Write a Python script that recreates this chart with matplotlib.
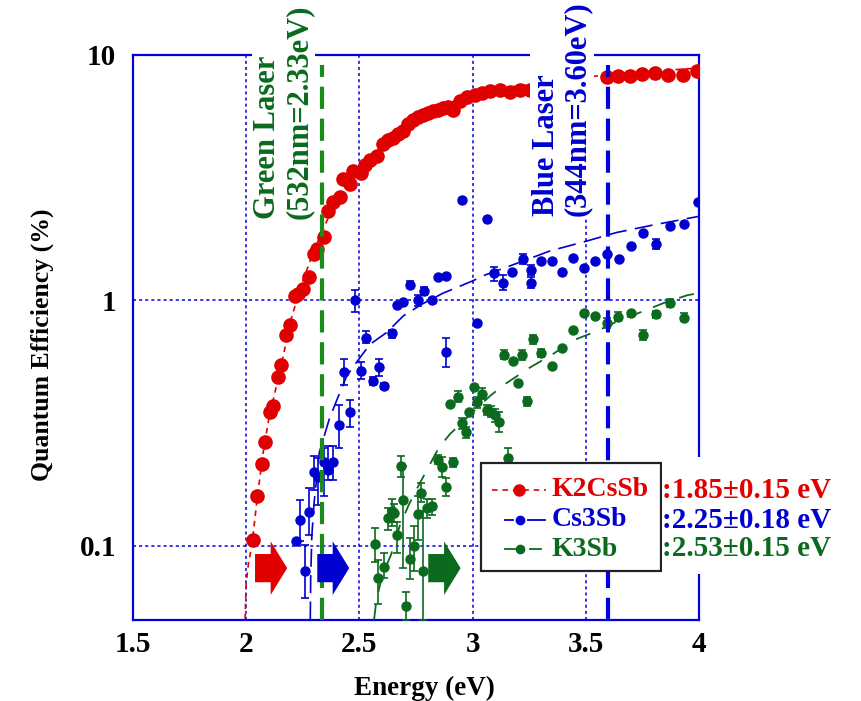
import matplotlib
matplotlib.use('Agg')
import matplotlib.pyplot as plt
import matplotlib.transforms as mtransforms
from matplotlib.patches import Rectangle, FancyArrow
from matplotlib.lines import Line2D
from matplotlib.ticker import NullLocator

plt.rcParams['font.family'] = ['Liberation Serif', 'DejaVu Serif']
plt.rcParams['font.weight'] = 'bold'
plt.rcParams['lines.scale_dashes'] = False

# ---------------- data ----------------
red_e = [2.030, 2.049, 2.068, 2.083, 2.104, 2.117, 2.141, 2.152, 2.175, 2.194,
         2.215, 2.230, 2.252, 2.278, 2.299, 2.313, 2.344, 2.360, 2.385, 2.414,
         2.428, 2.459, 2.473, 2.506, 2.525, 2.546, 2.576, 2.606, 2.628, 2.650,
         2.672, 2.694, 2.716, 2.738, 2.760, 2.782, 2.804, 2.826, 2.848, 2.870,
         2.892, 2.914, 2.944, 2.975, 3.011, 3.042, 3.077, 3.121, 3.165, 3.209,
         3.254, 3.592, 3.644, 3.695, 3.747, 3.806, 3.864, 3.931, 3.993]
red_qe = [0.105, 0.159, 0.215, 0.264, 0.352, 0.37, 0.486, 0.547, 0.72, 0.79,
          1.04, 1.06, 1.11, 1.25, 1.55, 1.62, 1.82, 2.31, 2.52, 2.64,
          3.11, 2.99, 3.37, 3.29, 3.56, 3.73, 3.87, 4.35, 4.49, 4.6,
          4.78, 4.92, 5.21, 5.41, 5.61, 5.71, 5.78, 5.9, 5.97, 6.08,
          6.12, 5.97, 6.47, 6.76, 6.89, 7.02, 7.11, 7.18, 7.08, 7.18,
          7.21, 8.15, 8.22, 8.2, 8.35, 8.42, 8.3, 8.3, 8.6]
red_fit_e = [1.995, 2.0, 2.01, 2.025, 2.05, 2.075, 2.1, 2.15, 2.2, 2.25, 2.3,
             2.35, 2.4, 2.5, 2.6, 2.7, 2.8, 2.9, 3.0, 3.2, 3.4, 3.6, 3.8, 4.0]
red_fit_qe = [0.05, 0.07, 0.085, 0.1, 0.16, 0.24, 0.33, 0.52, 0.85, 1.2, 1.6,
              2.05, 2.55, 3.4, 4.3, 5.1, 5.8, 6.4, 6.85, 7.5, 7.95, 8.3, 8.6, 8.85]

blue_e = [2.219, 2.237, 2.259, 2.278, 2.299, 2.318, 2.343, 2.362, 2.384, 2.411,
          2.431, 2.459, 2.481, 2.507, 2.529, 2.558, 2.585, 2.610, 2.643, 2.667,
          2.694, 2.723, 2.759, 2.785, 2.819, 2.848, 2.883, 2.883, 2.951, 3.018,
          3.062, 3.096, 3.135, 3.175, 3.224, 3.260, 3.260, 3.304, 3.352, 3.396,
          3.444, 3.493, 3.540, 3.595, 3.647, 3.700, 3.754, 3.811, 3.872, 3.935,
          3.997]
blue_qe = [0.104, 0.127, 0.079, 0.137, 0.20, 0.19, 0.22, 0.204, 0.22, 0.31,
           0.51, 0.349, 1.0, 0.517, 0.70, 0.467, 0.534, 0.447, 0.733, 0.957,
           0.98, 1.16, 1.0, 1.09, 1.0, 1.24, 1.26, 0.617, 2.56, 0.81,
           2.14, 1.29, 1.18, 1.31, 1.47, 1.33, 1.18, 1.44, 1.44, 1.31,
           1.49, 1.36, 1.44, 1.54, 1.47, 1.67, 1.88, 1.70, 2.0, 2.05,
           2.52]
blue_lo = [0.104, 0.104, 0.061, 0.11, 0.169, 0.146, 0.16, 0.185, 0.185, 0.25,
           0.45, 0.304, 0.9, 0.477, 0.67, 0.45, 0.493, 0.435, 0.70, 0.957,
           0.98, 1.12, 0.95, 1.05, 1.0, 1.24, 1.26, 0.533, 2.5, 0.81,
           2.14, 1.2, 1.1, 1.31, 1.4, 1.27, 1.12, 1.44, 1.44, 1.31,
           1.49, 1.36, 1.44, 1.54, 1.47, 1.67, 1.88, 1.62, 2.0, 2.05,
           2.52]
blue_hi = [0.104, 0.153, 0.101, 0.171, 0.233, 0.227, 0.25, 0.254, 0.254, 0.373,
           0.577, 0.394, 1.1, 0.56, 0.75, 0.485, 0.576, 0.46, 0.76, 0.957,
           0.98, 1.2, 1.05, 1.13, 1.0, 1.24, 1.26, 0.70, 2.62, 0.81,
           2.14, 1.37, 1.27, 1.31, 1.55, 1.39, 1.24, 1.44, 1.44, 1.31,
           1.49, 1.36, 1.44, 1.54, 1.47, 1.67, 1.88, 1.78, 2.0, 2.05,
           2.52]
blue_fit_e = [2.283, 2.285, 2.29, 2.30, 2.323, 2.367, 2.402, 2.444, 2.5, 2.547,
              2.62, 2.694, 2.775, 2.87, 3.0, 3.047, 3.2, 3.342, 3.5, 3.636, 3.8, 4.0]
blue_fit_qe = [0.05, 0.075, 0.11, 0.15, 0.24, 0.328, 0.396, 0.492, 0.58, 0.662,
               0.739, 0.864, 0.963, 1.07, 1.2, 1.26, 1.42, 1.59, 1.74, 1.89, 2.03, 2.2]

green_e = [2.568, 2.583, 2.609, 2.625, 2.643, 2.654, 2.667, 2.682, 2.694, 2.708,
           2.723, 2.742, 2.758, 2.771, 2.782, 2.800, 2.819, 2.848, 2.867, 2.883,
           2.915, 2.899, 2.937, 2.951, 2.970, 2.985, 3.008, 3.018, 3.041, 3.062,
           3.080, 3.099, 3.118, 3.158, 3.140, 3.179, 3.201, 3.220, 3.241, 3.265,
           3.304, 3.352, 3.397, 3.444, 3.493, 3.540, 3.595, 3.644, 3.700, 3.754,
           3.811, 3.872, 3.935]
green_qe = [0.102, 0.074, 0.082, 0.13, 0.138, 0.136, 0.111, 0.212, 0.154, 0.057,
            0.088, 0.10, 0.135, 0.164, 0.079, 0.143, 0.145, 0.224, 0.21, 0.173,
            0.219, 0.379, 0.404, 0.315, 0.29, 0.349, 0.443, 0.385, 0.416, 0.356,
            0.351, 0.34, 0.32, 0.227, 0.599, 0.568, 0.461, 0.599, 0.388, 0.695,
            0.61, 0.54, 0.637, 0.758, 0.892, 0.864, 0.807, 0.859, 0.892, 0.722,
            0.878, 0.972, 0.851]
green_lo = [0.086, 0.058, 0.074, 0.116, 0.12, 0.125, 0.093, 0.19, 0.081, 0.05,
            0.073, 0.079, 0.105, 0.15, 0.05, 0.13, 0.133, 0.215, 0.19, 0.159,
            0.21, 0.379, 0.385, 0.30, 0.275, 0.349, 0.443, 0.365, 0.395, 0.34,
            0.335, 0.32, 0.29, 0.227, 0.575, 0.568, 0.461, 0.57, 0.37, 0.665,
            0.585, 0.54, 0.637, 0.758, 0.892, 0.864, 0.77, 0.825, 0.892, 0.69,
            0.85, 0.94, 0.82]
green_hi = [0.118, 0.087, 0.093, 0.142, 0.155, 0.148, 0.125, 0.232, 0.212, 0.065,
            0.107, 0.12, 0.16, 0.18, 0.139, 0.155, 0.155, 0.235, 0.23, 0.188,
            0.228, 0.379, 0.425, 0.33, 0.305, 0.349, 0.443, 0.405, 0.44, 0.375,
            0.37, 0.36, 0.35, 0.25, 0.625, 0.568, 0.461, 0.63, 0.405, 0.725,
            0.635, 0.54, 0.637, 0.758, 0.892, 0.864, 0.845, 0.9, 0.892, 0.76,
            0.905, 1.01, 0.885]
green_fit_e = [2.565, 2.575, 2.6, 2.64, 2.68, 2.72, 2.75, 2.8, 2.85, 2.9, 2.95,
               3.0, 3.08, 3.15, 3.25, 3.35, 3.45, 3.55, 3.65, 3.75, 3.85, 3.95, 4.0]
green_fit_qe = [0.05, 0.06, 0.075, 0.092, 0.122, 0.148, 0.168, 0.205, 0.25, 0.285,
                0.315, 0.35, 0.41, 0.46, 0.53, 0.6, 0.69, 0.75, 0.83, 0.9, 0.98,
                1.05, 1.07]

laser_e = [2.335, 3.60]
laser_labels = ['Green Laser\n(532nm=2.33eV)', 'Blue Laser\n(344nm=3.60eV)']
arrow_start = [2.039, 2.314, 2.804]
arrow_end = [2.181, 2.455, 2.947]
series_names = ['K2CsSb', 'Cs3Sb', 'K3Sb']
thresholds = [':1.85\u00b10.15 eV', ':2.25\u00b10.18 eV', ':2.53\u00b10.15 eV']
xticks = [1.5, 2, 2.5, 3, 3.5, 4]
xticklabels = ['1.5', '2', '2.5', '3', '3.5', '4']
yticks = [0.1, 1, 10]
yticklabels = ['0.1', '1', '10']

# ---------------- styling ----------------
RED = '#e00000'
BLUE = '#0000d0'
GREEN = '#0b6a1e'
LGREEN = '#1a8a1a'
AXBLUE = '#0000e0'

W, H = 861, 701
fig = plt.figure(figsize=(W / 100, H / 100), dpi=100)
ax = fig.add_axes([133 / W, (H - 619.5) / H, (699 - 133) / W, (619.5 - 55) / H])
ax.set_yscale('log')
ax.set_xlim(1.5, 4)
ax.set_ylim(0.05, 10)
ax.set_xticks(xticks)
ax.set_xticklabels(xticklabels)
ax.set_yticks(yticks)
ax.set_yticklabels(yticklabels)
ax.yaxis.set_minor_locator(NullLocator())
ax.xaxis.set_minor_locator(NullLocator())
ax.tick_params(axis='both', length=0, labelsize=21)
ax.tick_params(axis='x', pad=8)
ax.tick_params(axis='y', pad=12)
for s in ax.spines.values():
    s.set_color(AXBLUE)
    s.set_linewidth(1.6)
ax.grid(True, color=AXBLUE, ls=(0, (2.2, 2.2)), lw=1.1)
ax.set_axisbelow(True)

# fits
ax.plot(red_fit_e, red_fit_qe, color=RED, lw=1.2, ls=(0, (4, 3.5)), zorder=3)
ax.plot(blue_fit_e, blue_fit_qe, color=BLUE, lw=1.2, ls=(0, (13, 6)), zorder=3)
ax.plot(green_fit_e, green_fit_qe, color=GREEN, lw=1.3, ls=(0, (11, 9)), zorder=3)

# data
def errs(v, lo, hi):
    return [[a - b for a, b in zip(v, lo)], [c - a for a, c in zip(v, hi)]]

ax.errorbar(green_e, green_qe, yerr=errs(green_qe, green_lo, green_hi), fmt='o',
            ms=6.5, color=GREEN, ecolor=GREEN, elinewidth=1.2, capsize=2.8,
            capthick=1.2, zorder=4)
ax.errorbar(blue_e, blue_qe, yerr=errs(blue_qe, blue_lo, blue_hi), fmt='o',
            ms=6.5, color=BLUE, ecolor=BLUE, elinewidth=1.2, capsize=2.8,
            capthick=1.2, zorder=4)
ax.plot(red_e, red_qe, 'o', color=RED, ms=9.5, zorder=5)

# laser lines
ax.plot([laser_e[0]] * 2, [0.05, 9.1], color=LGREEN, lw=3.0, ls=(0, (16, 7)), zorder=6)
ax.plot([laser_e[1]] * 2, [0.05, 9.1], color=AXBLUE, lw=3.0, ls=(0, (16, 7)), zorder=6)

# laser labels (white background hides the top frame)
bt = mtransforms.blended_transform_factory(ax.transData, fig.transFigure)
ax.text(2.165, 1 - 219 / H, laser_labels[0], rotation=90, ha='center', va='bottom',
        multialignment='left', fontsize=22, color=GREEN, transform=bt,
        linespacing=1.1, zorder=10,
        bbox=dict(facecolor='white', edgecolor='none', pad=1))
ax.text(3.395, 1 - 216 / H, laser_labels[1], rotation=90, ha='center', va='bottom',
        multialignment='left', fontsize=22, color=BLUE, transform=bt,
        linespacing=1.1, zorder=10,
        bbox=dict(facecolor='white', edgecolor='none', pad=1))

# arrows
at = mtransforms.blended_transform_factory(ax.transData, ax.transAxes)
for xs, xe, c in zip(arrow_start, arrow_end, [RED, BLUE, GREEN]):
    ax.add_patch(FancyArrow(xs, 0.091, xe - xs, 0, width=0.05, head_width=0.095,
                            head_length=0.073, length_includes_head=True,
                            transform=at, color=c, lw=0, zorder=7))

# axis labels
fig.text(424 / W, 1 - 688 / H, 'Energy (eV)', ha='center', va='center', fontsize=19.5)
fig.text(42 / W, 1 - 345 / H, 'Quantum Efficiency (%)', ha='center', va='center',
         rotation=90, fontsize=18.5)

# legend box
def F(px, py):
    return px / W, 1 - py / H

x0, y0 = F(481, 571)
x1, y1 = F(661, 463)
fig.patches.append(Rectangle((x0, y0), x1 - x0, y1 - y0, transform=fig.transFigure,
                             facecolor='white', edgecolor='#222222', lw=1.6, zorder=3))
wx0, wy0 = F(662, 574)
wx1, wy1 = F(850, 457)
fig.patches.append(Rectangle((wx0, wy0), wx1 - wx0, wy1 - wy0, transform=fig.transFigure,
                             facecolor='white', edgecolor='none', zorder=3.5))

rows = [490, 520, 549]
cols = [RED, BLUE, GREEN]
tf = fig.transFigure
# red handle
fig.lines.append(Line2D([492 / W, 546 / W], [F(0, rows[0])[1]] * 2, transform=tf,
                        color=RED, lw=1.2, ls=(0, (4, 3.5)), zorder=4))
fig.lines.append(Line2D([519 / W], [F(0, rows[0])[1]], transform=tf, marker='o',
                        ms=8, color=RED, zorder=4))
# blue handle
for a, b in [(505, 513), (528, 545)]:
    fig.lines.append(Line2D([a / W, b / W], [F(0, rows[1])[1]] * 2, transform=tf,
                            color=BLUE, lw=1.3, zorder=4))
fig.lines.append(Line2D([520 / W], [F(0, rows[1])[1]], transform=tf, marker='o',
                        ms=6, color=BLUE, zorder=4))
# green handle
for a, b in [(505, 515), (530, 541)]:
    fig.lines.append(Line2D([a / W, b / W], [F(0, rows[2])[1]] * 2, transform=tf,
                            color=GREEN, lw=1.3, zorder=4))
fig.lines.append(Line2D([520 / W], [F(0, rows[2])[1]], transform=tf, marker='o',
                        ms=6, color=GREEN, zorder=4))

for name, thr, r, c in zip(series_names, thresholds, rows, cols):
    fig.text(552 / W, F(0, r)[1], name, ha='left', va='center', fontsize=20,
             color=c, zorder=5)
    fig.text(662 / W, F(0, r)[1], thr, ha='left', va='center', fontsize=21,
             color=c, zorder=5)

fig.savefig('out.png', dpi=100)
